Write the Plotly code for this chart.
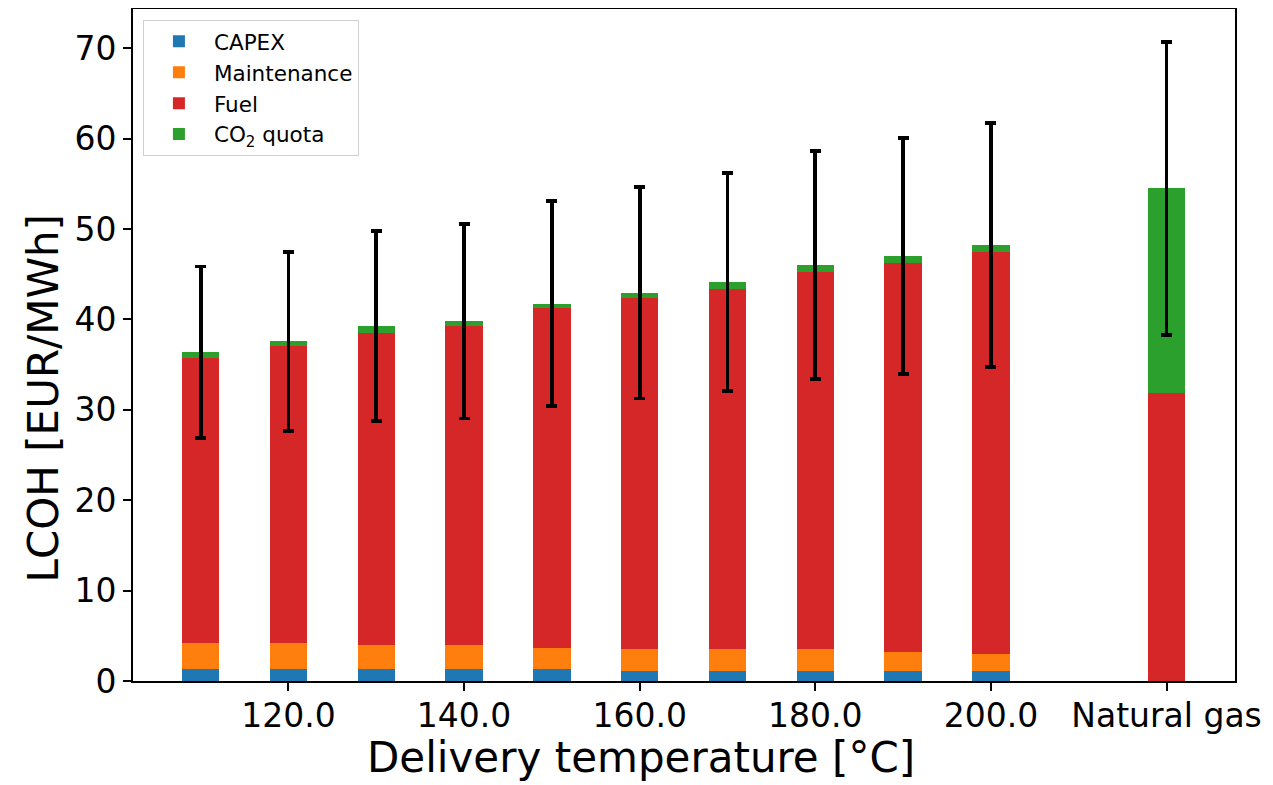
import plotly.graph_objects as go

# x positions (delivery temperature in °C; natural gas placed after the series)
x_pos = [110, 120, 130, 140, 150, 160, 170, 180, 190, 200, 220]
tick_vals = [120, 140, 160, 180, 200, 220]
tick_text = ["120.0", "140.0", "160.0", "180.0", "200.0", "Natural gas"]

capex = [1.3, 1.3, 1.3, 1.3, 1.3, 1.1, 1.1, 1.1, 1.1, 1.1, 0.0]
maintenance = [2.9, 2.9, 2.65, 2.65, 2.4, 2.4, 2.4, 2.4, 2.15, 1.9, 0.0]
fuel = [31.5, 32.9, 34.6, 35.3, 37.55, 38.9, 39.9, 41.8, 43.05, 44.5, 31.9]
co2 = [0.65, 0.5, 0.75, 0.55, 0.5, 0.55, 0.75, 0.75, 0.7, 0.7, 22.6]
err = [9.5, 9.9, 10.5, 10.75, 11.35, 11.7, 12.05, 12.6, 13.05, 13.5, 16.2]

x_title = "Delivery temperature [°C]"
y_title = "LCOH [EUR/MWh]"

colors = {"CAPEX": "#1f77b4", "Maintenance": "#ff7f0e", "Fuel": "#d62728", "CO2": "#2ca02c"}
bar_w = 4.25
FONT = "DejaVu Sans"

fig = go.Figure()
fig.add_trace(go.Bar(x=x_pos, y=capex, name="CAPEX", width=bar_w, legendgroup="a",
                     marker=dict(color=colors["CAPEX"], line=dict(width=0))))
fig.add_trace(go.Bar(x=x_pos, y=maintenance, name="Maintenance", width=bar_w, legendgroup="b",
                     marker=dict(color=colors["Maintenance"], line=dict(width=0))))
fig.add_trace(go.Bar(x=x_pos, y=fuel, name="Fuel", width=bar_w, legendgroup="c",
                     marker=dict(color=colors["Fuel"], line=dict(width=0))))
fig.add_trace(go.Bar(x=x_pos, y=co2, name="CO<sub>2</sub> quota", width=bar_w, legendgroup="d",
                     marker=dict(color=colors["CO2"], line=dict(width=0)),
                     error_y=dict(type="data", array=err, visible=True,
                                  color="black", thickness=3.8, width=5.5)))

fig.update_layout(
    barmode="stack",
    width=1265, height=777,
    margin=dict(l=125, r=38, t=1, b=104),
    plot_bgcolor="white", paper_bgcolor="white",
    font=dict(family=FONT, color="black"),
    showlegend=True,
    legend=dict(x=0.009, y=0.984, xanchor="left", yanchor="top",
                bgcolor="white", bordercolor="#d0d0d0", borderwidth=1,
                font=dict(family=FONT, size=21.5), itemwidth=60,
                traceorder="grouped", tracegroupgap=0),
    annotations=[
        dict(text=x_title, xref="paper", yref="paper", x=0.461, y=-0.1142,
             xanchor="center", yanchor="middle", showarrow=False,
             font=dict(family=FONT, size=42, color="black")),
        dict(text=y_title, xref="paper", yref="paper", x=-0.081, y=0.42,
             xanchor="center", yanchor="middle", showarrow=False, textangle=-90,
             font=dict(family=FONT, size=42, color="black")),
    ],
)
fig.update_xaxes(
    range=[102.3, 227.8], tickmode="array", tickvals=tick_vals, ticktext=tick_text,
    showline=True, linecolor="black", linewidth=1.8, mirror=True,
    ticks="outside", ticklen=8, tickwidth=1.8, tickcolor="black",
    showgrid=False, zeroline=False, tickfont=dict(family=FONT, size=33),
    ticklabelstandoff=-4,
    automargin=False,
)
fig.update_yaxes(
    range=[0, 74.35], tickmode="array", tickvals=[0, 10, 20, 30, 40, 50, 60, 70],
    showline=True, linecolor="black", linewidth=1.8, mirror=True,
    ticks="outside", ticklen=8, tickwidth=1.8, tickcolor="black",
    showgrid=False, zeroline=False, tickfont=dict(family=FONT, size=33),
    automargin=False,
)

fig.write_html("out.html")
